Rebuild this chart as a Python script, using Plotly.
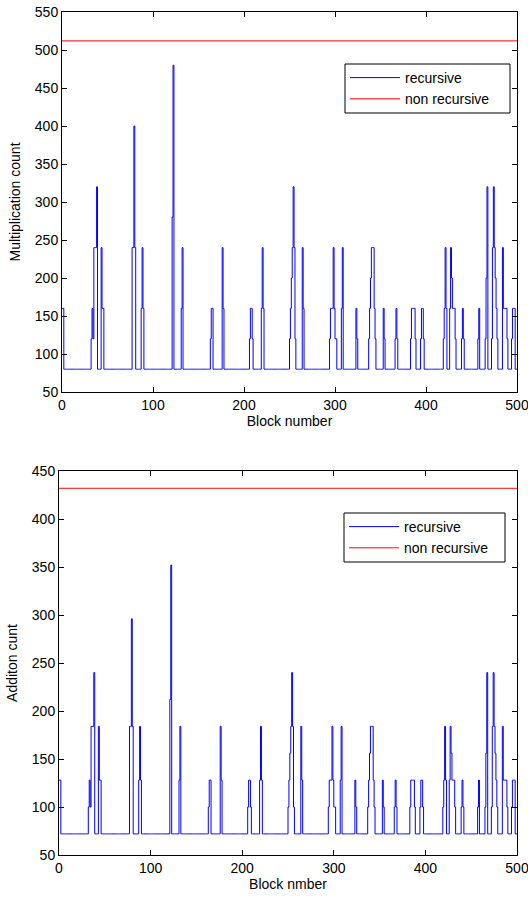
import plotly.graph_objects as go

# ---------------- data ----------------
n_blocks = 500
x_range = [0, 500]

mult_base = 80          # recursive multiplication count for a "flat" block
add_base = 72           # recursive addition count for a "flat" block
mult_nonrec = 512       # non recursive multiplication count
add_nonrec = 432        # non recursive addition count

# blocks whose recursive count differs from the base level
spike_blocks = [
    0, 1,
    32, 33, 34, 35, 36, 37, 38,
    43, 44, 45,
    77, 78, 79, 80,
    87, 88, 89,
    121, 122,
    131, 132,
    163, 164, 165,
    176, 177,
    206, 207, 208, 209,
    219, 220, 221,
    250, 251, 252, 253, 254, 255, 256,
    264, 265,
    294, 295, 296, 297, 298, 299, 300, 301,
    307, 308,
    323, 324,
    337, 338, 339, 340, 341, 342, 343, 344,
    353, 354,
    366, 367, 368,
    383, 384, 385, 386, 387, 388,
    394, 395, 396, 397,
    419, 420, 421, 422,
    426, 427, 428, 429, 430, 431, 432,
    439, 440, 441,
    457, 458,
    465, 466, 467,
    472, 473, 474, 475, 476, 477, 478,
    484, 485, 486, 487, 488, 489,
    494, 495, 496, 497,
]

mult_spikes = [
    160, 160,
    120, 160, 120, 240, 240, 240, 320,
    240, 160, 160,
    240, 240, 400, 240,
    160, 240, 160,
    280, 480,
    160, 240,
    120, 160, 160,
    240, 160,
    120, 160, 160, 120,
    160, 240, 160,
    120, 160, 200, 240, 320, 240, 120,
    240, 160,
    120, 160, 160, 160, 240, 160, 120, 120,
    160, 240,
    160, 120,
    120, 160, 200, 240, 240, 240, 160, 120,
    160, 120,
    120, 160, 120,
    120, 160, 160, 160, 160, 120,
    120, 160, 160, 120,
    120, 160, 240, 160,
    160, 240, 200, 160, 160, 160, 120,
    120, 160, 120,
    120, 160,
    120, 200, 320,
    120, 240, 320, 240, 200, 160, 120,
    240, 160, 160, 160, 160, 120,
    120, 160, 160, 160,
]

add_spikes = [
    128, 128,
    100, 128, 100, 184, 184, 184, 240,
    184, 128, 128,
    184, 184, 296, 184,
    128, 184, 128,
    212, 352,
    128, 184,
    100, 128, 128,
    184, 128,
    100, 128, 128, 100,
    128, 184, 128,
    100, 128, 156, 184, 240, 184, 100,
    184, 128,
    100, 128, 128, 128, 184, 128, 100, 100,
    128, 184,
    128, 100,
    100, 128, 156, 184, 184, 184, 128, 100,
    128, 100,
    100, 128, 100,
    100, 128, 128, 128, 128, 100,
    100, 128, 128, 100,
    100, 128, 184, 128,
    128, 184, 156, 128, 128, 128, 100,
    100, 128, 100,
    100, 128,
    100, 156, 240,
    100, 184, 240, 184, 156, 128, 100,
    184, 128, 128, 128, 128, 100,
    100, 128, 128, 128,
]

mult_yticks = list(range(50, 551, 50))
add_yticks = list(range(50, 451, 50))
xticks = list(range(0, 501, 100))

# ---------------- build series ----------------
mult = [mult_base] * n_blocks
add = [add_base] * n_blocks
for b, m, a in zip(spike_blocks, mult_spikes, add_spikes):
    mult[b] = m
    add[b] = a

xs = list(range(n_blocks)) + [n_blocks]
mult_y = mult + [mult[-1]]
add_y = add + [add[-1]]

W, H = 528, 899
FONT = "Liberation Sans, Arial, sans-serif"


def px(v):
    return v / W


def py(v):
    return 1 - v / H


fig = go.Figure()

fig.add_trace(go.Scatter(x=xs, y=mult_y, mode="lines", line=dict(color="#0000ff", width=1, shape="hv"),
                         name="recursive", xaxis="x", yaxis="y", legend="legend"))
fig.add_trace(go.Scatter(x=x_range, y=[mult_nonrec] * 2, mode="lines", line=dict(color="#ff0000", width=1),
                         name="non recursive", xaxis="x", yaxis="y", legend="legend"))
fig.add_trace(go.Scatter(x=xs, y=add_y, mode="lines", line=dict(color="#0000ff", width=1, shape="hv"),
                         name="recursive", xaxis="x2", yaxis="y2", legend="legend2"))
fig.add_trace(go.Scatter(x=x_range, y=[add_nonrec] * 2, mode="lines", line=dict(color="#ff0000", width=1),
                         name="non recursive", xaxis="x2", yaxis="y2", legend="legend2"))

axis_common = dict(showline=True, linecolor="black", linewidth=1, mirror="ticks",
                   ticks="inside", ticklen=5, tickcolor="black", tickwidth=1,
                   showgrid=False, zeroline=False, automargin=False,
                   ticklabeloverflow="allow",
                   tickfont=dict(family=FONT, size=14, color="black"))

legend_common = dict(xanchor="left", yanchor="top", borderwidth=0, bgcolor="rgba(0,0,0,0)",
                     itemwidth=50, font=dict(family=FONT, size=14, color="black"), tracegroupgap=0)

fig.update_layout(
    width=W, height=H,
    margin=dict(l=0, r=0, t=0, b=0),
    paper_bgcolor="white", plot_bgcolor="white",
    font=dict(family=FONT, size=14, color="black"),
    xaxis=dict(domain=[px(62), px(517)], range=x_range, tickvals=xticks, anchor="y",
               title=dict(text="Block number", standoff=0, font=dict(family=FONT, size=14)),
               **axis_common),
    yaxis=dict(domain=[py(392), py(12)], range=[50, 550], tickvals=mult_yticks, anchor="x",
               title=dict(text="Multiplication count", standoff=10, font=dict(family=FONT, size=14)),
               **axis_common),
    xaxis2=dict(domain=[px(59), px(517)], range=x_range, tickvals=xticks, anchor="y2",
                title=dict(text="Block nmber", standoff=3, font=dict(family=FONT, size=14)),
                **axis_common),
    yaxis2=dict(domain=[py(855), py(471)], range=[50, 450], tickvals=add_yticks, anchor="x2",
                title=dict(text="Additon cunt", standoff=10, font=dict(family=FONT, size=14)),
                **axis_common),
    legend=dict(x=px(345), y=py(62), **legend_common),
    legend2=dict(x=px(344), y=py(511), **legend_common),
    showlegend=True,
    shapes=[
        dict(type="rect", xref="paper", yref="paper", x0=px(345), x1=px(510), y0=py(113), y1=py(64),
             line=dict(color="black", width=1), fillcolor="rgba(0,0,0,0)", layer="above"),
        dict(type="rect", xref="paper", yref="paper", x0=px(344), x1=px(505), y0=py(562), y1=py(513),
             line=dict(color="black", width=1), fillcolor="rgba(0,0,0,0)", layer="above"),
    ],
)

# remove the browser's default 8px page margin so the figure fills the window exactly
fig.write_html("out.html", config={"displayModeBar": False},
               post_script="document.body.style.margin='0';document.body.style.overflow='hidden';")
